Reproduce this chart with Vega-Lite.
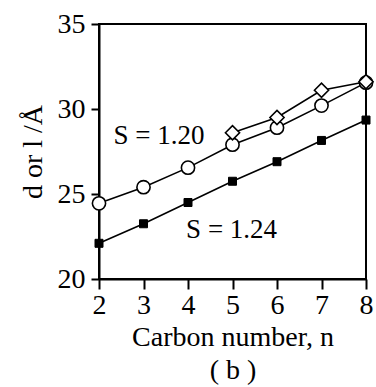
{
  "$schema": "https://vega.github.io/schema/vega-lite/v6.json",
  "width": 267,
  "height": 255,
  "autosize": {"type": "none"},
  "padding": {"left": 99, "top": 24, "right": 10, "bottom": 108},
  "background": "white",
  "config": {
    "font": "Liberation Serif",
    "view": {"stroke": "black", "strokeWidth": 2},
    "axis": {
      "domainColor": "black", "domainWidth": 2, "tickColor": "black", "tickWidth": 2,
      "grid": false, "labelFont": "Liberation Serif", "titleFont": "Liberation Serif",
      "labelColor": "black", "titleColor": "black", "labelFontSize": 28, "titleFontSize": 28,
      "titleFontWeight": "normal"
    }
  },
  "datasets": {
    "pts": [
      {"n": 2, "v": 24.45, "s": "S120"},
      {"n": 3, "v": 25.4, "s": "S120"},
      {"n": 4, "v": 26.55, "s": "S120"},
      {"n": 5, "v": 27.9, "s": "S120"},
      {"n": 6, "v": 28.9, "s": "S120"},
      {"n": 7, "v": 30.2, "s": "S120"},
      {"n": 8, "v": 31.55, "s": "S120"},
      {"n": 2, "v": 22.1, "s": "S124"},
      {"n": 3, "v": 23.25, "s": "S124"},
      {"n": 4, "v": 24.5, "s": "S124"},
      {"n": 5, "v": 25.75, "s": "S124"},
      {"n": 6, "v": 26.9, "s": "S124"},
      {"n": 7, "v": 28.15, "s": "S124"},
      {"n": 8, "v": 29.35, "s": "S124"},
      {"n": 5, "v": 28.6, "s": "D"},
      {"n": 6, "v": 29.5, "s": "D"},
      {"n": 7, "v": 31.1, "s": "D"},
      {"n": 8, "v": 31.6, "s": "D"}
    ],
    "labels": [
      {"n": 3.35, "v": 28.4, "t": "S = 1.20"},
      {"n": 4.98, "v": 22.9, "t": "S = 1.24"}
    ]
  },
  "encoding": {
    "x": {
      "field": "n", "type": "quantitative",
      "scale": {"domain": [2, 8], "nice": false, "zero": false},
      "axis": {"values": [2, 3, 4, 5, 6, 7, 8], "tickSize": 10, "labelPadding": 2,
               "title": ["Carbon number, n", "( b )"], "titleLineHeight": 33, "titlePadding": 4,
               "labelFlush": false}
    },
    "y": {
      "field": "v", "type": "quantitative",
      "scale": {"domain": [20, 35], "nice": false, "zero": false},
      "axis": {"values": [20, 25, 30, 35], "tickSize": 8, "labelPadding": 6,
               "title": "d or l /Å", "titlePadding": 10, "labelFlush": false}
    }
  },
  "layer": [
    {
      "data": {"name": "pts"},
      "mark": {"type": "line", "color": "black", "strokeWidth": 1.6},
      "encoding": {"detail": {"field": "s", "type": "nominal"}}
    },
    {
      "data": {"name": "pts"},
      "transform": [{"filter": "datum.s === 'S120'"}],
      "mark": {"type": "point", "shape": "circle", "size": 175, "fill": "white", "fillOpacity": 1, "stroke": "black", "strokeWidth": 1.6, "opacity": 1}
    },
    {
      "data": {"name": "pts"},
      "transform": [{"filter": "datum.s === 'S124'"}],
      "mark": {"type": "point", "shape": "square", "size": 64, "fill": "black", "fillOpacity": 1, "stroke": "black", "strokeWidth": 1, "opacity": 1}
    },
    {
      "data": {"name": "pts"},
      "transform": [{"filter": "datum.s === 'D'"}],
      "mark": {"type": "point", "shape": "diamond", "size": 200, "fill": "white", "fillOpacity": 1, "stroke": "black", "strokeWidth": 1.6, "opacity": 1}
    },
    {
      "data": {"name": "labels"},
      "mark": {"type": "text", "font": "Liberation Serif", "fontSize": 27, "color": "black"},
      "encoding": {"text": {"field": "t"}}
    }
  ]
}
